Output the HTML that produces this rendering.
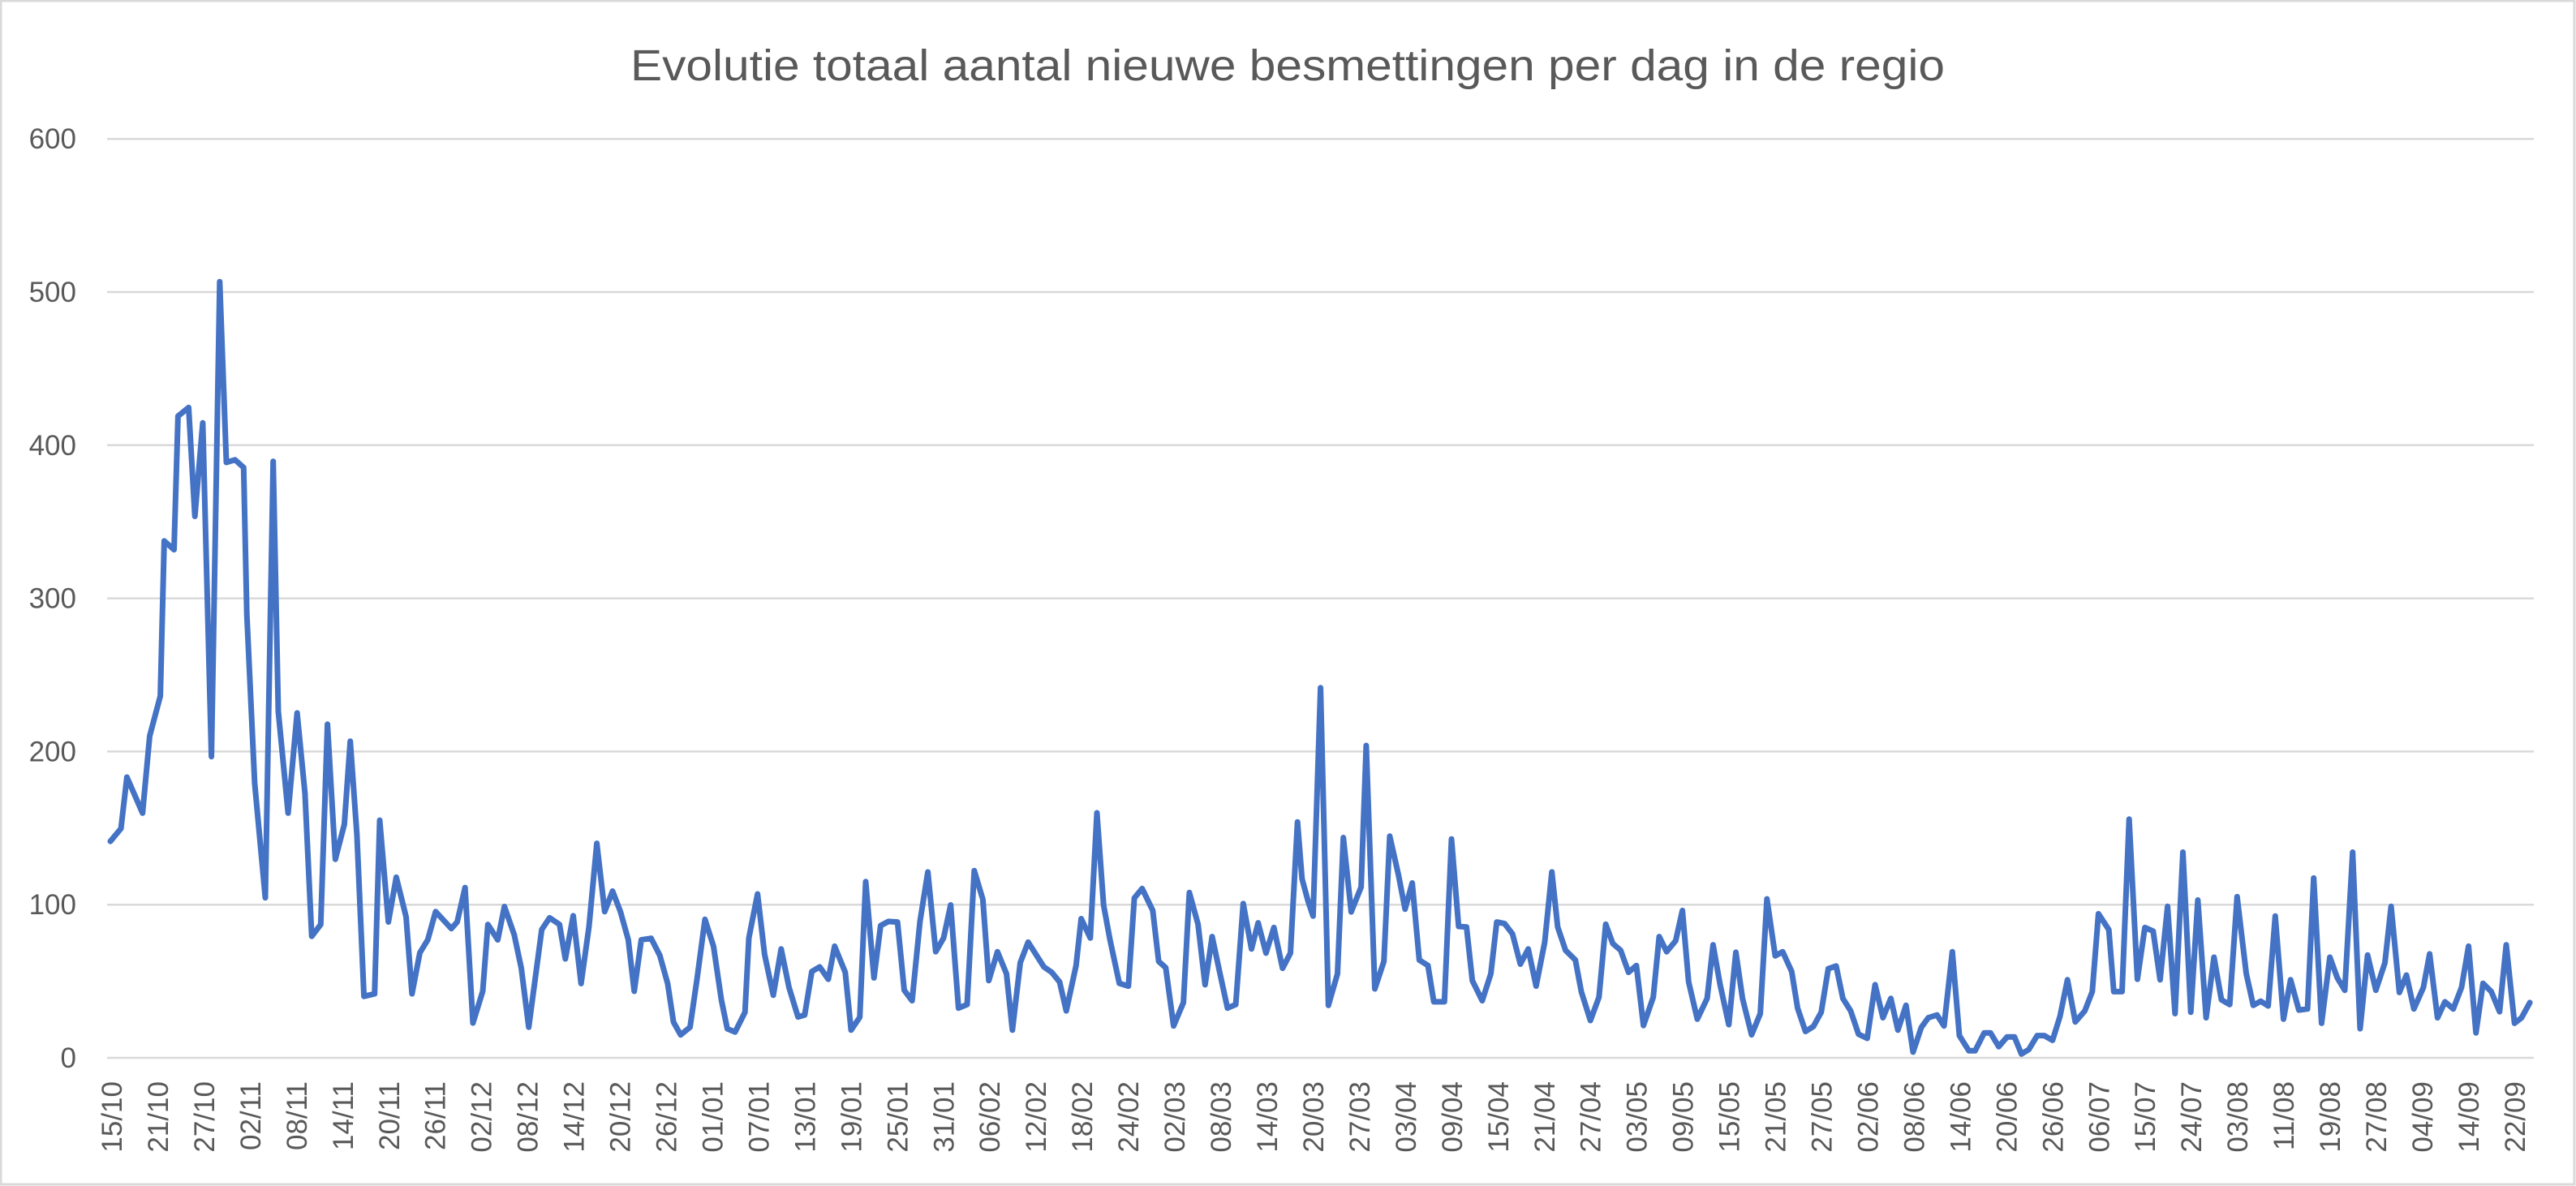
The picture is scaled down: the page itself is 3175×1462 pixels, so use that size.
<!DOCTYPE html>
<html><head><meta charset="utf-8"><style>
html,body{margin:0;padding:0;background:#fff;}
svg{display:block;font-family:"Liberation Sans",sans-serif;}
</style></head><body>
<svg id="c" width="3175" height="1462" viewBox="0 0 3175 1462" xmlns="http://www.w3.org/2000/svg">
<rect x="1" y="1" width="3172" height="1459" fill="#fff" stroke="#d9d9d9" stroke-width="3"/>
<text x="1587" y="99" text-anchor="middle" font-size="54" fill="#595959" textLength="1620" lengthAdjust="spacingAndGlyphs">Evolutie totaal aantal nieuwe besmettingen per dag in de regio</text>
<g id="grid" stroke="#d9d9d9" stroke-width="2.5"></g>
<g id="yl" font-size="35" fill="#595959" text-anchor="end"></g>
<g id="xl" font-size="35" fill="#595959" text-anchor="end"></g>
<polyline id="ln" fill="none" stroke="#4472C4" stroke-width="7" stroke-linejoin="round" stroke-linecap="round" points=""/>
</svg>
<script>
var NS="http://www.w3.org/2000/svg";
function el(t,a,p,txt){var e=document.createElementNS(NS,t);for(var k in a)e.setAttribute(k,a[k]);if(txt!==undefined)e.textContent=txt;p.appendChild(e);return e;}
var g=document.getElementById('grid'),yl=document.getElementById('yl'),xl=document.getElementById('xl');
for(var v=0;v<=600;v+=100){var y=1304-v*1.888;el('line',{x1:132,x2:3123,y1:y,y2:y},g);el('text',{x:94,y:y+12},yl,String(v));}
var labels="15/10 21/10 27/10 02/11 08/11 14/11 20/11 26/11 02/12 08/12 14/12 20/12 26/12 01/01 07/01 13/01 19/01 25/01 31/01 06/02 12/02 18/02 24/02 02/03 08/03 14/03 20/03 27/03 03/04 09/04 15/04 21/04 27/04 03/05 09/05 15/05 21/05 27/05 02/06 08/06 14/06 20/06 26/06 06/07 15/07 24/07 03/08 11/08 19/08 27/08 04/09 14/09 22/09".split(" ");
for(var k=0;k<labels.length;k++){var cx=138+k*56.96+12;el('text',{x:0,y:0,transform:'translate('+cx+',1333) rotate(-90)'},xl,labels[k]);}
var z4=[[33,1133],[60,1108],[75,1008],[115,1078],[133,928],[160,850],[170,548],[195,565],[205,305],[232,288],[248,500],[268,318],[290,968],[311,43],[328,395],[350,390],[372,405],[380,690],[400,1020],[427,1243],[447,393],[460,880],[485,1078],[508,883],[528,1040],[545,1318],[568,1295],[585,905],[605,1168],[628,1100],[643,938],[660,1120],[678,1435],[705,1430],[718,1092],[740,1290],[760,1203],[785,1280],[800,1430],[820,1350],[840,1325],[860,1270],[900,1303],[915,1290],[935,1223],[955,1487],[980,1425],[993,1295],[1018,1325],[1035,1260],[1060,1315],[1078,1380],[1097,1495],[1130,1305],[1150,1282],[1175,1295],[1190,1362],[1210,1278],[1230,1410],[1250,1300],[1270,1137],[1290,1270],[1310,1230],[1330,1270],[1350,1325],[1365,1425],[1383,1325],[1408,1322],[1430,1355],[1450,1410],[1465,1485],[1483,1510],[1507,1495],[1525,1400],[1545,1285]];
var z5=[[40,1140],[60,1335],[75,1440],[95,1452],[120,1380],[130,1110],[152,950],[170,1170],[192,1318],[212,1150],[232,1290],[255,1397],[272,1390],[290,1232],[310,1215],[332,1260],[348,1140],[375,1235],[390,1445],[412,1398],[427,905],[448,1255],[465,1065],[485,1050],[508,1052],[525,1300],[545,1338],[565,1050],[585,870],[605,1160],[625,1110],[643,990],[663,1365],[685,1352],[703,865],[725,970],[740,1265],[762,1160],[785,1240],[800,1445],[820,1200],[840,1125],[860,1170],[880,1215],[900,1235],[920,1270],[937,1375],[962,1210],[975,1040],[998,1110],[1015,655],[1032,990],[1048,1115],[1072,1275],[1095,1285],[1110,965],[1130,930],[1157,1010],[1172,1195],[1190,1218],[1210,1430],[1235,1345],[1250,945],[1272,1060],[1290,1280],[1308,1105],[1328,1240],[1347,1365],[1368,1352],[1387,985],[1408,1150],[1425,1055],[1445,1165],[1465,1072],[1487,1220],[1507,1165],[1525,688]];
var z6=[[10,895],[25,975],[38,1030],[57,200],[77,1355],[100,1240],[115,745],[135,1015],[160,925],[173,410],[195,1295],[218,1195],[233,740],[255,880],[272,1005],[290,910],[308,1190],[330,1210],[345,1342],[372,1342],[390,750],[408,1068],[428,1070],[443,1265],[468,1338],[490,1240],[505,1052],[525,1058],[545,1095],[565,1205],[585,1150],[605,1285],[627,1125],[645,870],[660,1070],[680,1155],[705,1190],[720,1305],[743,1410],[765,1325],[782,1060],[800,1130],[820,1155],[840,1235],[860,1210],[878,1428],[903,1325],[918,1105],[937,1160],[960,1120],[977,1010],[993,1270],[1015,1405],[1040,1330],[1055,1135],[1073,1280],[1095,1425],[1113,1162],[1130,1330],[1153,1462],[1175,1385],[1192,968],[1213,1175],[1232,1160],[1255,1232],[1270,1365],[1290,1450],[1310,1432],[1330,1380],[1348,1222],[1368,1212],[1385,1330],[1405,1375],[1425,1460],[1447,1475],[1467,1280],[1487,1400],[1507,1330],[1525,1445]];
var z7=[[18,1355],[35,1525],[55,1435],[72,1400],[93,1390],[110,1430],[130,1160],[147,1465],[170,1520],[185,1520],[207,1455],[222,1455],[242,1505],[262,1470],[280,1470],[297,1532],[315,1515],[335,1465],[352,1465],[372,1482],[390,1395],[408,1262],[427,1415],[450,1375],[468,1305],[483,1022],[508,1080],[520,1305],[540,1305],[557,678],[577,1260],[595,1072],[615,1085],[632,1262],[650,995],[668,1385],[687,798],[706,1380],[723,972],[743,1400],[762,1180],[780,1335],[800,1352],[818,960],[840,1240],[857,1355],[875,1340],[893,1357],[910,1030],[930,1405],[947,1262],[967,1372],[988,1368],[1003,892],[1022,1420],[1042,1180],[1060,1255],[1078,1300],[1097,798],[1115,1440],[1133,1172],[1153,1300],[1175,1200],[1190,995],[1210,1308],[1227,1245],[1245,1368],[1268,1290],[1283,1168],[1302,1400],[1320,1342],[1340,1368],[1360,1290],[1377,1140],[1395,1455],[1412,1275],[1432,1305],[1452,1378],[1468,1135],[1488,1420],[1505,1400],[1525,1345]];
var pts=[];
z4.forEach(function(p){pts.push([120+p[0]/2.063,320+p[1]/1.58]);});
z5.forEach(function(p){pts.push([860+p[0]/2.063,780+p[1]/2.95]);});
z6.forEach(function(p){pts.push([1600+p[0]/2.063,780+p[1]/2.95]);});
z7.forEach(function(p){pts.push([2340+p[0]/1.96,780+p[1]/2.95]);});
document.getElementById('ln').setAttribute('points',pts.map(function(p){return p[0].toFixed(1)+','+p[1].toFixed(1);}).join(' '));
</script>
</body></html>
